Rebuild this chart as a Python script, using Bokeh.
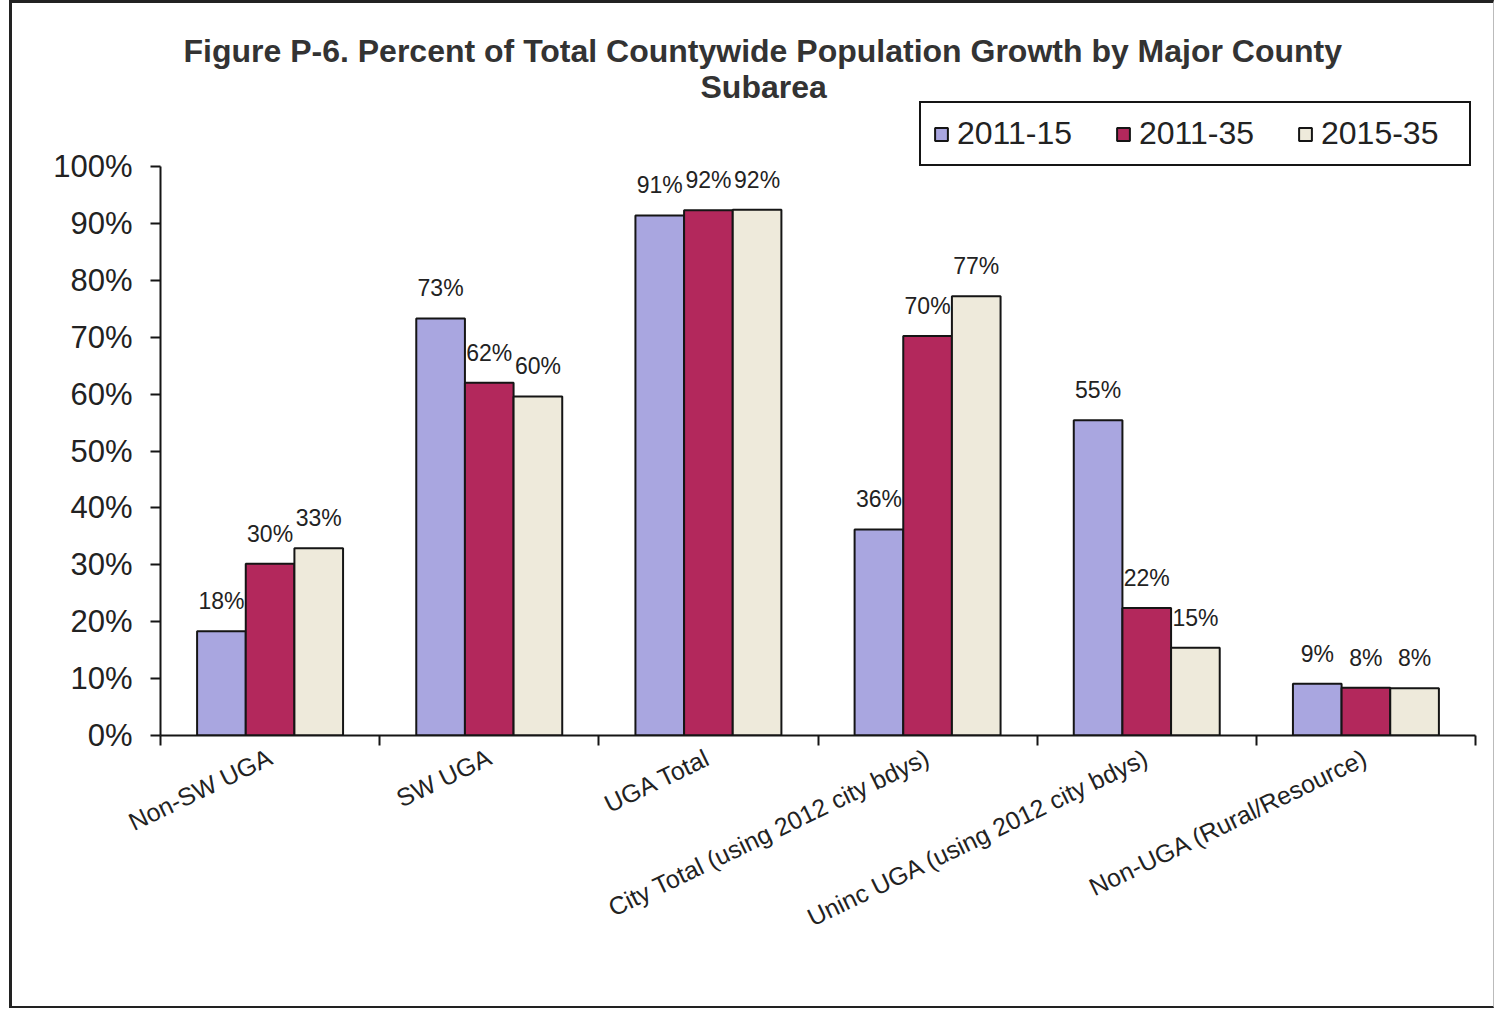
from bokeh.plotting import figure
from bokeh.models import (ColumnDataSource, Range1d, FixedTicker, PrintfTickFormatter,
                          Legend, LegendItem, Title)
from bokeh.embed import file_html
from bokeh.resources import INLINE
from bokeh.core.properties import value

# ---- data ----
categories = ["Non-SW UGA", "SW UGA", "UGA Total",
              "City Total (using 2012 city bdys)",
              "Uninc UGA (using 2012 city bdys)",
              "Non-UGA (Rural/Resource)"]
series = ["2011-15", "2011-35", "2015-35"]
v_2011_15 = [18.3, 73.3, 91.4, 36.2, 55.4, 9.1]
v_2011_35 = [30.2, 62.0, 92.3, 70.2, 22.4, 8.4]
v_2015_35 = [32.9, 59.6, 92.4, 77.2, 15.4, 8.3]
y_ticks = list(range(0, 101, 10))
title_line1 = "Figure P-6. Percent of Total Countywide Population Growth by Major County"
title_line2 = "Subarea"

colors = ["#A9A6E0", "#B3285C", "#EEEADB"]
FONT = "Liberation Sans"

# layout (pixels): frame top is raised above the 100% line so the legend fits inside it
PX_TOP, PX_100, PX_0 = 97, 166, 735
y_end = 100.0 * (PX_0 - PX_TOP) / (PX_0 - PX_100)

p = figure(width=1485, height=1008, x_range=Range1d(0, 6), y_range=Range1d(0, y_end),
           output_backend="svg", toolbar_location=None,
           min_border_left=148, min_border_right=22, min_border_top=PX_TOP - 3,
           min_border_bottom=276, background_fill_color="white",
           border_fill_color="white")
p.xgrid.visible = False
p.ygrid.visible = False
p.outline_line_color = None
p.styles = {"margin-left": "9px",
            "border-left": "3px solid #222", "border-top": "3px solid #222",
            "border-bottom": "2px solid #222", "border-right": "1px solid #bbbbbb"}

bar_w = 0.222
offsets = [-0.222, 0.0, 0.222]
renderers = []
for j, vals in enumerate([v_2011_15, v_2011_35, v_2015_35]):
    xs = [i + 0.5 + offsets[j] for i in range(len(categories))]
    src = ColumnDataSource(dict(x=xs, top=vals,
                                ly=[v + 5.3 for v in vals],
                                lab=[f"{round(v)}%" for v in vals]))
    r = p.vbar(x="x", top="top", bottom=0, width=bar_w, source=src,
               fill_color=colors[j], line_color="#151515", line_width=2)
    renderers.append(r)
    p.text(x="x", y="ly", text="lab", source=src, text_font=value(FONT),
           text_font_size="23px", text_align="center", text_baseline="middle",
           text_color="#222222")

# y axis
yax = p.yaxis[0]
yax.bounds = (0, 100)
yax.ticker = FixedTicker(ticks=y_ticks, minor_ticks=[])
yax.formatter = PrintfTickFormatter(format="%d%%")
yax.major_label_text_font = FONT
yax.major_label_text_font_size = "31px"
yax.major_label_text_color = "#222222"
yax.major_tick_out = 10
yax.major_tick_in = 0
yax.major_tick_line_color = "#151515"
yax.major_tick_line_width = 2
yax.axis_line_color = "#151515"
yax.axis_line_width = 2
yax.major_label_standoff = 18

# x axis
xax = p.xaxis[0]
xax.ticker = FixedTicker(ticks=[i + 0.5 for i in range(len(categories))],
                         minor_ticks=list(range(len(categories) + 1)))
xax.major_label_overrides = {i + 0.5: c for i, c in enumerate(categories)}
xax.major_label_orientation = 0.45
xax.major_label_text_font = FONT
xax.major_label_text_font_size = "25px"
xax.major_label_text_color = "#222222"
xax.major_tick_line_color = None
xax.major_tick_out = 0
xax.major_tick_in = 0
xax.minor_tick_out = 10
xax.minor_tick_in = 0
xax.minor_tick_line_color = "#151515"
xax.minor_tick_line_width = 2
xax.axis_line_color = "#151515"
xax.axis_line_width = 2
xax.major_label_standoff = 10

# legend (top right of the raised frame)
legend = Legend(items=[LegendItem(label=s, renderers=[r]) for s, r in zip(series, renderers)],
                orientation="horizontal", location="top_right",
                border_line_color="#151515", border_line_width=2, border_line_alpha=1.0,
                background_fill_color="white", background_fill_alpha=1.0,
                label_text_font=FONT, label_text_font_size="32px",
                label_text_color="#222222",
                glyph_width=16, glyph_height=16, label_standoff=8,
                label_width=136, spacing=22, padding=12, margin=4)
p.add_layout(legend, "center")

t2 = Title(text=title_line2, align="left", text_font=FONT, text_font_size="32px",
           text_font_style="bold", text_color="#333333", standoff=-14, offset=540)
t1 = Title(text=title_line1, align="left", text_font=FONT, text_font_size="32px",
           text_font_style="bold", text_color="#333333", standoff=10, offset=23)
p.add_layout(t2, "above")
p.add_layout(t1, "above")

open("out.html", "w").write(file_html(p, INLINE))
